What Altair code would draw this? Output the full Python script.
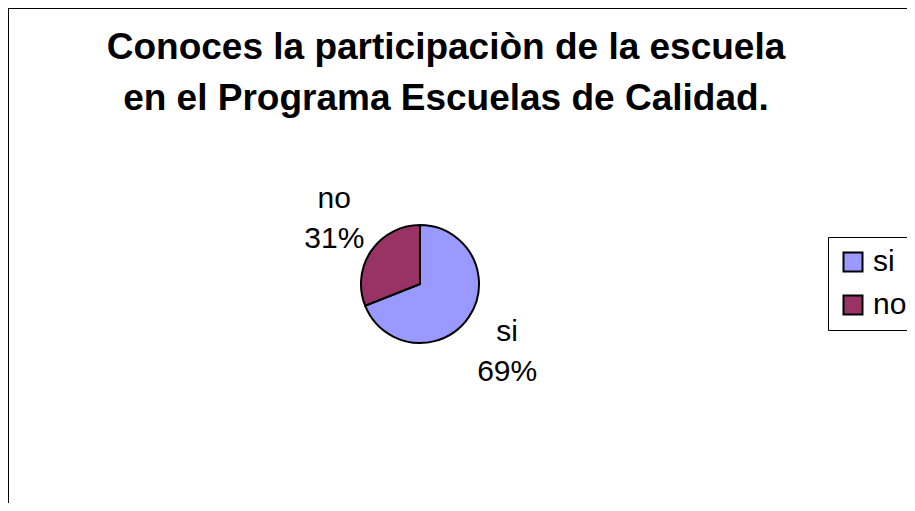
import altair as alt
import pandas as pd

categories = ["si", "no"]
percents = [69, 31]
order_idx = [0, 1]
colors = ["#9999FF", "#993366"]
title_text = "Conoces la participaciòn de la escuela\nen el Programa Escuelas de Calidad."

df = pd.DataFrame({"cat": categories, "v": percents, "idx": order_idx})
title_df = pd.DataFrame({"t": [title_text]})

FONT = "Liberation Sans"
CX, CY = 412, 276

base = alt.Chart(df).transform_window(
    cum="sum(v)", sort=[alt.SortField("idx")]
).transform_calculate(
    start="datum.cum - datum.v",
    mid="datum.cum - datum.v / 2",
    label="datum.cat + '\\n' + datum.v + '%'",
)

theta_scale = alt.Scale(domain=[0, 100])

arcs = base.mark_arc(outerRadius=59, stroke="black", strokeWidth=2).encode(
    x=alt.value(CX),
    y=alt.value(CY),
    theta=alt.Theta("start:Q", scale=theta_scale),
    theta2="cum:Q",
    color=alt.Color(
        "cat:N",
        scale=alt.Scale(domain=categories, range=colors),
        legend=alt.Legend(
            title=None,
            orient="none",
            legendX=820,
            legendY=229,
            symbolType="square",
            symbolSize=361,
            symbolStrokeColor="black",
            symbolStrokeWidth=2,
            symbolOpacity=1,
            labelFontSize=30,
            labelFont=FONT,
            labelColor="black",
            labelOffset=5,
            strokeColor="black",
            padding=10,
            rowPadding=13,
        ),
    ),
)

def label_layer(cat, radius, dx, dy):
    return base.transform_filter(alt.datum.cat == cat).mark_text(
        radius=radius, dx=dx, dy=dy, font=FONT, fontSize=30, lineBreak="\n",
        lineHeight=40, color="black", align="center", baseline="middle",
    ).encode(
        x=alt.value(CX),
        y=alt.value(CY),
        theta=alt.Theta("mid:Q", scale=theta_scale),
        text="label:N",
    )

lab_si = label_layer("si", 109, -3, -13)
lab_no = label_layer("no", 71, -27, -45)

title = alt.Chart(title_df).mark_text(
    font=FONT, fontSize=37, fontWeight="bold", color="black", align="center",
    baseline="alphabetic", lineBreak="\n", lineHeight=51,
).encode(x=alt.value(438), y=alt.value(51), text="t:N")

frame_left = alt.Chart(df).mark_rule(color="black", strokeWidth=2).encode(
    x=alt.value(0), y=alt.value(0), y2=alt.value(600)
)
frame_top = alt.Chart(df).mark_rule(color="black", strokeWidth=2).encode(
    x=alt.value(0), x2=alt.value(1000), y=alt.value(0)
)

chart = alt.layer(frame_left, frame_top, title, arcs, lab_si, lab_no).properties(
    width=899,
    height=495,
    autosize=alt.AutoSizeParams(type="none"),
    padding=0,
).configure_view(stroke=None)

chart.save("out.html", embed_options={"renderer": "svg", "actions": False})
